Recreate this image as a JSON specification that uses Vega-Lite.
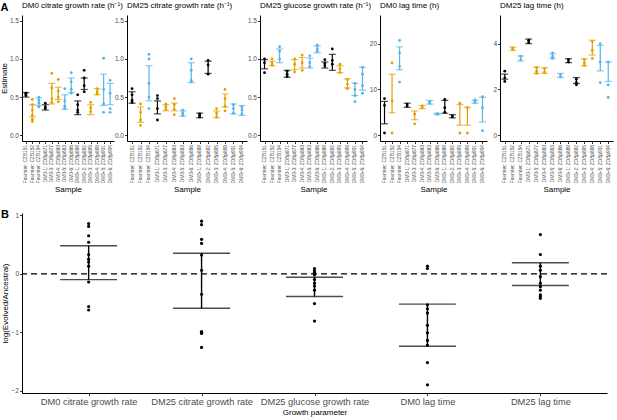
{
  "$schema": "https://vega.github.io/schema/vega-lite/v6.json",
  "padding": {"left": 0, "top": 2, "right": 2, "bottom": 2},
  "spacing": 15,
  "config": {
    "font": "Liberation Sans",
    "view": {"stroke": null},
    "axis": {
      "grid": false,
      "domainColor": "black",
      "domainWidth": 1,
      "tickColor": "black",
      "tickWidth": 0.8,
      "tickSize": 2.5,
      "labelColor": "#4d4d4d",
      "labelFontSize": 6.5,
      "labelPadding": 1,
      "titleColor": "black",
      "titleFontWeight": "normal",
      "titleFontSize": 8,
      "titlePadding": 2
    },
    "title": {"fontWeight": "normal", "fontSize": 8, "anchor": "start", "frame": "group", "color": "black", "offset": 5}
  },
  "datasets": {
    "samples": [
      {"s": "F151", "label": "Founder: CZB151", "g": "CZB151"},
      {"s": "F152", "label": "Founder: CZB152", "g": "CZB152"},
      {"s": "F154", "label": "Founder: CZB154", "g": "CZB154"},
      {"s": "M1", "label": "DM0-1: ZDBp871", "g": "CZB151"},
      {"s": "M3", "label": "DM0-3: ZDBp877", "g": "CZB152"},
      {"s": "M4", "label": "DM0-4: ZDBp880", "g": "CZB152"},
      {"s": "M5", "label": "DM0-5: ZDBp883", "g": "CZB154"},
      {"s": "M6", "label": "DM0-6: ZDBp886", "g": "CZB154"},
      {"s": "P1", "label": "DM0+1: ZDBp889", "g": "CZB151"},
      {"s": "P2", "label": "DM0+2: ZDBp892", "g": "CZB151"},
      {"s": "P3", "label": "DM0+3: ZDBp895", "g": "CZB152"},
      {"s": "P4", "label": "DM0+4: ZDBp898", "g": "CZB152"},
      {"s": "P5", "label": "DM0+5: ZDBp901", "g": "CZB154"},
      {"s": "P6", "label": "DM0+6: ZDBp904", "g": "CZB154"}
    ],
    "bars": [
      {"p": "c0", "s": "F151", "lo": 0.50, "hi": 0.56},
      {"p": "c0", "s": "F152", "lo": 0.24, "hi": 0.40},
      {"p": "c0", "s": "F154", "lo": 0.39, "hi": 0.49},
      {"p": "c0", "s": "M1", "lo": 0.33, "hi": 0.40},
      {"p": "c0", "s": "M3", "lo": 0.41, "hi": 0.68},
      {"p": "c0", "s": "M4", "lo": 0.47, "hi": 0.63},
      {"p": "c0", "s": "M5", "lo": 0.34, "hi": 0.53},
      {"p": "c0", "s": "M6", "lo": 0.56, "hi": 0.75},
      {"p": "c0", "s": "P1", "lo": 0.27, "hi": 0.45},
      {"p": "c0", "s": "P2", "lo": 0.60, "hi": 0.75},
      {"p": "c0", "s": "P3", "lo": 0.27, "hi": 0.40},
      {"p": "c0", "s": "P4", "lo": 0.53, "hi": 0.61},
      {"p": "c0", "s": "P5", "lo": 0.39, "hi": 0.80},
      {"p": "c0", "s": "P6", "lo": 0.40, "hi": 0.68},
      {"p": "c25", "s": "F151", "lo": 0.42, "hi": 0.57},
      {"p": "c25", "s": "F152", "lo": 0.17, "hi": 0.37},
      {"p": "c25", "s": "F154", "lo": 0.45, "hi": 0.91},
      {"p": "c25", "s": "M1", "lo": 0.28, "hi": 0.45},
      {"p": "c25", "s": "M3", "lo": 0.32, "hi": 0.40},
      {"p": "c25", "s": "M4", "lo": 0.32, "hi": 0.42},
      {"p": "c25", "s": "M5", "lo": 0.25, "hi": 0.32},
      {"p": "c25", "s": "M6", "lo": 0.69, "hi": 0.95},
      {"p": "c25", "s": "P1", "lo": 0.23, "hi": 0.29},
      {"p": "c25", "s": "P2", "lo": 0.81, "hi": 0.97},
      {"p": "c25", "s": "P3", "lo": 0.23, "hi": 0.32},
      {"p": "c25", "s": "P4", "lo": 0.37, "hi": 0.54},
      {"p": "c25", "s": "P5", "lo": 0.28, "hi": 0.41},
      {"p": "c25", "s": "P6", "lo": 0.26, "hi": 0.39},
      {"p": "g25", "s": "F151", "lo": 0.87, "hi": 0.99},
      {"p": "g25", "s": "F152", "lo": 0.91, "hi": 0.97},
      {"p": "g25", "s": "F154", "lo": 0.95, "hi": 1.13},
      {"p": "g25", "s": "M1", "lo": 0.76, "hi": 0.85},
      {"p": "g25", "s": "M3", "lo": 0.86, "hi": 0.99},
      {"p": "g25", "s": "M4", "lo": 0.88, "hi": 1.02},
      {"p": "g25", "s": "M5", "lo": 0.88, "hi": 1.01},
      {"p": "g25", "s": "M6", "lo": 1.08, "hi": 1.17},
      {"p": "g25", "s": "P1", "lo": 0.88, "hi": 0.96},
      {"p": "g25", "s": "P2", "lo": 0.85, "hi": 1.06},
      {"p": "g25", "s": "P3", "lo": 0.82, "hi": 0.91},
      {"p": "g25", "s": "P4", "lo": 0.62, "hi": 0.74},
      {"p": "g25", "s": "P5", "lo": 0.52, "hi": 0.68},
      {"p": "g25", "s": "P6", "lo": 0.59, "hi": 0.89},
      {"p": "l0", "s": "F151", "lo": 2.5, "hi": 7.4},
      {"p": "l0", "s": "F152", "lo": 4.9, "hi": 13.3},
      {"p": "l0", "s": "F154", "lo": 14.3, "hi": 19.3},
      {"p": "l0", "s": "M1", "lo": 6.1, "hi": 7.0},
      {"p": "l0", "s": "M3", "lo": 3.4, "hi": 5.3},
      {"p": "l0", "s": "M4", "lo": 5.8, "hi": 6.5},
      {"p": "l0", "s": "M5", "lo": 6.8, "hi": 7.6},
      {"p": "l0", "s": "M6", "lo": 4.5, "hi": 4.8},
      {"p": "l0", "s": "P1", "lo": 4.8, "hi": 7.6},
      {"p": "l0", "s": "P2", "lo": 3.8, "hi": 4.5},
      {"p": "l0", "s": "P3", "lo": 2.2, "hi": 6.7},
      {"p": "l0", "s": "P4", "lo": 2.2, "hi": 6.1},
      {"p": "l0", "s": "P5", "lo": 7.0, "hi": 7.6},
      {"p": "l0", "s": "P6", "lo": 2.9, "hi": 8.3},
      {"p": "l25", "s": "F151", "lo": 2.45, "hi": 2.67},
      {"p": "l25", "s": "F152", "lo": 3.70, "hi": 3.85},
      {"p": "l25", "s": "F154", "lo": 3.24, "hi": 3.46},
      {"p": "l25", "s": "M1", "lo": 4.00, "hi": 4.20},
      {"p": "l25", "s": "M3", "lo": 2.70, "hi": 2.98},
      {"p": "l25", "s": "M4", "lo": 2.70, "hi": 2.95},
      {"p": "l25", "s": "M5", "lo": 3.36, "hi": 3.56},
      {"p": "l25", "s": "M6", "lo": 2.52, "hi": 2.70},
      {"p": "l25", "s": "P1", "lo": 3.17, "hi": 3.34},
      {"p": "l25", "s": "P2", "lo": 2.26, "hi": 2.52},
      {"p": "l25", "s": "P3", "lo": 3.03, "hi": 3.34},
      {"p": "l25", "s": "P4", "lo": 3.50, "hi": 4.15},
      {"p": "l25", "s": "P5", "lo": 2.81, "hi": 3.92},
      {"p": "l25", "s": "P6", "lo": 2.35, "hi": 3.20}
    ],
    "reps": [
      {"p": "c0", "s": "F151", "v": 0.52}, {"p": "c0", "s": "F151", "v": 0.54}, {"p": "c0", "s": "F151", "v": 0.55},
      {"p": "c0", "s": "F152", "v": 0.47}, {"p": "c0", "s": "F152", "v": 0.40}, {"p": "c0", "s": "F152", "v": 0.33}, {"p": "c0", "s": "F152", "v": 0.26}, {"p": "c0", "s": "F152", "v": 0.21}, {"p": "c0", "s": "F152", "v": 0.18},
      {"p": "c0", "s": "F154", "v": 0.50}, {"p": "c0", "s": "F154", "v": 0.46}, {"p": "c0", "s": "F154", "v": 0.42}, {"p": "c0", "s": "F154", "v": 0.37},
      {"p": "c0", "s": "M1", "v": 0.42}, {"p": "c0", "s": "M1", "v": 0.37}, {"p": "c0", "s": "M1", "v": 0.35},
      {"p": "c0", "s": "M3", "v": 0.81}, {"p": "c0", "s": "M3", "v": 0.62}, {"p": "c0", "s": "M3", "v": 0.48}, {"p": "c0", "s": "M3", "v": 0.43},
      {"p": "c0", "s": "M4", "v": 0.73}, {"p": "c0", "s": "M4", "v": 0.58}, {"p": "c0", "s": "M4", "v": 0.50}, {"p": "c0", "s": "M4", "v": 0.44},
      {"p": "c0", "s": "M5", "v": 0.61}, {"p": "c0", "s": "M5", "v": 0.45}, {"p": "c0", "s": "M5", "v": 0.38}, {"p": "c0", "s": "M5", "v": 0.35},
      {"p": "c0", "s": "M6", "v": 0.82}, {"p": "c0", "s": "M6", "v": 0.70}, {"p": "c0", "s": "M6", "v": 0.60}, {"p": "c0", "s": "M6", "v": 0.55},
      {"p": "c0", "s": "P1", "v": 0.53}, {"p": "c0", "s": "P1", "v": 0.40}, {"p": "c0", "s": "P1", "v": 0.33}, {"p": "c0", "s": "P1", "v": 0.30},
      {"p": "c0", "s": "P2", "v": 0.85}, {"p": "c0", "s": "P2", "v": 0.75}, {"p": "c0", "s": "P2", "v": 0.65}, {"p": "c0", "s": "P2", "v": 0.57},
      {"p": "c0", "s": "P3", "v": 0.43}, {"p": "c0", "s": "P3", "v": 0.36}, {"p": "c0", "s": "P3", "v": 0.31},
      {"p": "c0", "s": "P4", "v": 0.61}, {"p": "c0", "s": "P4", "v": 0.57}, {"p": "c0", "s": "P4", "v": 0.54},
      {"p": "c0", "s": "P5", "v": 1.01}, {"p": "c0", "s": "P5", "v": 0.60}, {"p": "c0", "s": "P5", "v": 0.41}, {"p": "c0", "s": "P5", "v": 0.30},
      {"p": "c0", "s": "P6", "v": 0.72}, {"p": "c0", "s": "P6", "v": 0.55}, {"p": "c0", "s": "P6", "v": 0.35}, {"p": "c0", "s": "P6", "v": 0.30},
      {"p": "c25", "s": "F151", "v": 0.61}, {"p": "c25", "s": "F151", "v": 0.53}, {"p": "c25", "s": "F151", "v": 0.46}, {"p": "c25", "s": "F151", "v": 0.43},
      {"p": "c25", "s": "F152", "v": 0.41}, {"p": "c25", "s": "F152", "v": 0.30}, {"p": "c25", "s": "F152", "v": 0.20}, {"p": "c25", "s": "F152", "v": 0.13},
      {"p": "c25", "s": "F154", "v": 1.06}, {"p": "c25", "s": "F154", "v": 1.00}, {"p": "c25", "s": "F154", "v": 0.68}, {"p": "c25", "s": "F154", "v": 0.50}, {"p": "c25", "s": "F154", "v": 0.35},
      {"p": "c25", "s": "M1", "v": 0.52}, {"p": "c25", "s": "M1", "v": 0.48}, {"p": "c25", "s": "M1", "v": 0.35}, {"p": "c25", "s": "M1", "v": 0.20},
      {"p": "c25", "s": "M3", "v": 0.41}, {"p": "c25", "s": "M3", "v": 0.37}, {"p": "c25", "s": "M3", "v": 0.34},
      {"p": "c25", "s": "M4", "v": 0.48}, {"p": "c25", "s": "M4", "v": 0.40}, {"p": "c25", "s": "M4", "v": 0.34}, {"p": "c25", "s": "M4", "v": 0.27},
      {"p": "c25", "s": "M5", "v": 0.33}, {"p": "c25", "s": "M5", "v": 0.29}, {"p": "c25", "s": "M5", "v": 0.26},
      {"p": "c25", "s": "M6", "v": 1.00}, {"p": "c25", "s": "M6", "v": 0.85}, {"p": "c25", "s": "M6", "v": 0.72}, {"p": "c25", "s": "M6", "v": 0.70},
      {"p": "c25", "s": "P1", "v": 0.28}, {"p": "c25", "s": "P1", "v": 0.26}, {"p": "c25", "s": "P1", "v": 0.24},
      {"p": "c25", "s": "P2", "v": 0.98}, {"p": "c25", "s": "P2", "v": 0.92}, {"p": "c25", "s": "P2", "v": 0.80},
      {"p": "c25", "s": "P3", "v": 0.35}, {"p": "c25", "s": "P3", "v": 0.29}, {"p": "c25", "s": "P3", "v": 0.24},
      {"p": "c25", "s": "P4", "v": 0.60}, {"p": "c25", "s": "P4", "v": 0.48}, {"p": "c25", "s": "P4", "v": 0.38}, {"p": "c25", "s": "P4", "v": 0.32},
      {"p": "c25", "s": "P5", "v": 0.40}, {"p": "c25", "s": "P5", "v": 0.35}, {"p": "c25", "s": "P5", "v": 0.29},
      {"p": "c25", "s": "P6", "v": 0.37}, {"p": "c25", "s": "P6", "v": 0.33}, {"p": "c25", "s": "P6", "v": 0.28},
      {"p": "g25", "s": "F151", "v": 1.00}, {"p": "g25", "s": "F151", "v": 0.95}, {"p": "g25", "s": "F151", "v": 0.82},
      {"p": "g25", "s": "F152", "v": 1.00}, {"p": "g25", "s": "F152", "v": 0.95}, {"p": "g25", "s": "F152", "v": 0.92},
      {"p": "g25", "s": "F154", "v": 1.16}, {"p": "g25", "s": "F154", "v": 1.10}, {"p": "g25", "s": "F154", "v": 1.00},
      {"p": "g25", "s": "M1", "v": 0.84}, {"p": "g25", "s": "M1", "v": 0.80}, {"p": "g25", "s": "M1", "v": 0.77},
      {"p": "g25", "s": "M3", "v": 1.00}, {"p": "g25", "s": "M3", "v": 0.93}, {"p": "g25", "s": "M3", "v": 0.83},
      {"p": "g25", "s": "M4", "v": 1.05}, {"p": "g25", "s": "M4", "v": 0.95}, {"p": "g25", "s": "M4", "v": 0.85},
      {"p": "g25", "s": "M5", "v": 1.04}, {"p": "g25", "s": "M5", "v": 0.95}, {"p": "g25", "s": "M5", "v": 0.90},
      {"p": "g25", "s": "M6", "v": 1.18}, {"p": "g25", "s": "M6", "v": 1.13}, {"p": "g25", "s": "M6", "v": 1.10},
      {"p": "g25", "s": "P1", "v": 0.99}, {"p": "g25", "s": "P1", "v": 0.94}, {"p": "g25", "s": "P1", "v": 0.91},
      {"p": "g25", "s": "P2", "v": 1.13}, {"p": "g25", "s": "P2", "v": 0.98}, {"p": "g25", "s": "P2", "v": 0.93},
      {"p": "g25", "s": "P3", "v": 0.93}, {"p": "g25", "s": "P3", "v": 0.87}, {"p": "g25", "s": "P3", "v": 0.82},
      {"p": "g25", "s": "P4", "v": 0.73}, {"p": "g25", "s": "P4", "v": 0.67}, {"p": "g25", "s": "P4", "v": 0.61},
      {"p": "g25", "s": "P5", "v": 0.68}, {"p": "g25", "s": "P5", "v": 0.60}, {"p": "g25", "s": "P5", "v": 0.52}, {"p": "g25", "s": "P5", "v": 0.44},
      {"p": "g25", "s": "P6", "v": 0.89}, {"p": "g25", "s": "P6", "v": 0.80}, {"p": "g25", "s": "P6", "v": 0.65}, {"p": "g25", "s": "P6", "v": 0.55},
      {"p": "l0", "s": "F151", "v": 8.0}, {"p": "l0", "s": "F151", "v": 6.5}, {"p": "l0", "s": "F151", "v": 0.5},
      {"p": "l0", "s": "F152", "v": 15.8}, {"p": "l0", "s": "F152", "v": 7.5}, {"p": "l0", "s": "F152", "v": 0.5},
      {"p": "l0", "s": "F154", "v": 20.7}, {"p": "l0", "s": "F154", "v": 18.0}, {"p": "l0", "s": "F154", "v": 15.0}, {"p": "l0", "s": "F154", "v": 11.6},
      {"p": "l0", "s": "M1", "v": 6.8}, {"p": "l0", "s": "M1", "v": 6.4},
      {"p": "l0", "s": "M3", "v": 4.6}, {"p": "l0", "s": "M3", "v": 2.5},
      {"p": "l0", "s": "M4", "v": 6.4}, {"p": "l0", "s": "M4", "v": 6.0},
      {"p": "l0", "s": "M5", "v": 7.4}, {"p": "l0", "s": "M5", "v": 7.0},
      {"p": "l0", "s": "M6", "v": 4.7}, {"p": "l0", "s": "M6", "v": 4.6},
      {"p": "l0", "s": "P1", "v": 7.8}, {"p": "l0", "s": "P1", "v": 6.0}, {"p": "l0", "s": "P1", "v": 5.0},
      {"p": "l0", "s": "P2", "v": 4.2}, {"p": "l0", "s": "P2", "v": 4.0},
      {"p": "l0", "s": "P3", "v": 7.0}, {"p": "l0", "s": "P3", "v": 0.5},
      {"p": "l0", "s": "P4", "v": 6.0}, {"p": "l0", "s": "P4", "v": 0.5},
      {"p": "l0", "s": "P5", "v": 7.7}, {"p": "l0", "s": "P5", "v": 7.2},
      {"p": "l0", "s": "P6", "v": 8.4}, {"p": "l0", "s": "P6", "v": 6.0}, {"p": "l0", "s": "P6", "v": 1.0},
      {"p": "l25", "s": "F151", "v": 2.8}, {"p": "l25", "s": "F151", "v": 2.5}, {"p": "l25", "s": "F151", "v": 2.35},
      {"p": "l25", "s": "F152", "v": 3.8}, {"p": "l25", "s": "F152", "v": 3.75},
      {"p": "l25", "s": "F154", "v": 3.45}, {"p": "l25", "s": "F154", "v": 3.3},
      {"p": "l25", "s": "M1", "v": 4.15}, {"p": "l25", "s": "M1", "v": 4.05},
      {"p": "l25", "s": "M3", "v": 2.95}, {"p": "l25", "s": "M3", "v": 2.8}, {"p": "l25", "s": "M3", "v": 2.7},
      {"p": "l25", "s": "M4", "v": 2.9}, {"p": "l25", "s": "M4", "v": 2.75},
      {"p": "l25", "s": "M5", "v": 3.6}, {"p": "l25", "s": "M5", "v": 3.45}, {"p": "l25", "s": "M5", "v": 3.35},
      {"p": "l25", "s": "M6", "v": 2.65}, {"p": "l25", "s": "M6", "v": 2.55},
      {"p": "l25", "s": "P1", "v": 3.3}, {"p": "l25", "s": "P1", "v": 3.2},
      {"p": "l25", "s": "P2", "v": 2.45}, {"p": "l25", "s": "P2", "v": 2.3}, {"p": "l25", "s": "P2", "v": 2.2},
      {"p": "l25", "s": "P3", "v": 3.3}, {"p": "l25", "s": "P3", "v": 3.15}, {"p": "l25", "s": "P3", "v": 3.05},
      {"p": "l25", "s": "P4", "v": 4.1}, {"p": "l25", "s": "P4", "v": 3.7}, {"p": "l25", "s": "P4", "v": 3.35},
      {"p": "l25", "s": "P5", "v": 4.0}, {"p": "l25", "s": "P5", "v": 3.2}, {"p": "l25", "s": "P5", "v": 2.3},
      {"p": "l25", "s": "P6", "v": 3.2}, {"p": "l25", "s": "P6", "v": 2.2}, {"p": "l25", "s": "P6", "v": 1.65}
    ],
    "ratioBars": [
      {"param": "DM0 citrate growth rate", "lo": -0.10, "hi": 0.48},
      {"param": "DM25 citrate growth rate", "lo": -0.59, "hi": 0.35},
      {"param": "DM25 glucose growth rate", "lo": -0.39, "hi": -0.06},
      {"param": "DM0 lag time", "lo": -1.24, "hi": -0.52},
      {"param": "DM25 lag time", "lo": -0.20, "hi": 0.19}
    ],
    "ratios": [
      {"param": "DM0 citrate growth rate", "v": 0.86}, {"param": "DM0 citrate growth rate", "v": 0.81}, {"param": "DM0 citrate growth rate", "v": 0.65}, {"param": "DM0 citrate growth rate", "v": 0.54}, {"param": "DM0 citrate growth rate", "v": 0.33}, {"param": "DM0 citrate growth rate", "v": 0.25}, {"param": "DM0 citrate growth rate", "v": 0.20}, {"param": "DM0 citrate growth rate", "v": 0.13}, {"param": "DM0 citrate growth rate", "v": -0.14}, {"param": "DM0 citrate growth rate", "v": -0.56}, {"param": "DM0 citrate growth rate", "v": -0.62},
      {"param": "DM25 citrate growth rate", "v": 0.90}, {"param": "DM25 citrate growth rate", "v": 0.84}, {"param": "DM25 citrate growth rate", "v": 0.59}, {"param": "DM25 citrate growth rate", "v": 0.52}, {"param": "DM25 citrate growth rate", "v": 0.32}, {"param": "DM25 citrate growth rate", "v": 0.06}, {"param": "DM25 citrate growth rate", "v": -0.35}, {"param": "DM25 citrate growth rate", "v": -0.99}, {"param": "DM25 citrate growth rate", "v": -1.00}, {"param": "DM25 citrate growth rate", "v": -1.02}, {"param": "DM25 citrate growth rate", "v": -1.26},
      {"param": "DM25 glucose growth rate", "v": 0.09}, {"param": "DM25 glucose growth rate", "v": 0.05}, {"param": "DM25 glucose growth rate", "v": 0.02}, {"param": "DM25 glucose growth rate", "v": 0.0}, {"param": "DM25 glucose growth rate", "v": -0.02}, {"param": "DM25 glucose growth rate", "v": -0.10}, {"param": "DM25 glucose growth rate", "v": -0.16}, {"param": "DM25 glucose growth rate", "v": -0.21}, {"param": "DM25 glucose growth rate", "v": -0.28}, {"param": "DM25 glucose growth rate", "v": -0.51}, {"param": "DM25 glucose growth rate", "v": -0.81},
      {"param": "DM0 lag time", "v": 0.13}, {"param": "DM0 lag time", "v": 0.09}, {"param": "DM0 lag time", "v": -0.53}, {"param": "DM0 lag time", "v": -0.60}, {"param": "DM0 lag time", "v": -0.67}, {"param": "DM0 lag time", "v": -0.88}, {"param": "DM0 lag time", "v": -1.01}, {"param": "DM0 lag time", "v": -1.14}, {"param": "DM0 lag time", "v": -1.22}, {"param": "DM0 lag time", "v": -1.52}, {"param": "DM0 lag time", "v": -1.90},
      {"param": "DM25 lag time", "v": 0.67}, {"param": "DM25 lag time", "v": 0.33}, {"param": "DM25 lag time", "v": 0.13}, {"param": "DM25 lag time", "v": 0.06}, {"param": "DM25 lag time", "v": -0.05}, {"param": "DM25 lag time", "v": -0.16}, {"param": "DM25 lag time", "v": -0.22}, {"param": "DM25 lag time", "v": -0.28}, {"param": "DM25 lag time", "v": -0.36}, {"param": "DM25 lag time", "v": -0.39}, {"param": "DM25 lag time", "v": -0.42}
    ]
  },
  "vconcat": [
    {
      "title": {"text": "A", "fontSize": 11, "fontWeight": "bold", "anchor": "start", "frame": "bounds", "offset": -11},
      "bounds": "flush",
      "spacing": 13,
      "hconcat": [
        {
          "width": 92, "height": 126,
          "title": "DM0 citrate growth rate (h⁻¹)",
          "encoding": {
            "x": {"field": "label", "type": "nominal", "sort": ["Founder: CZB151", "Founder: CZB152", "Founder: CZB154", "DM0-1: ZDBp871", "DM0-3: ZDBp877", "DM0-4: ZDBp880", "DM0-5: ZDBp883", "DM0-6: ZDBp886", "DM0+1: ZDBp889", "DM0+2: ZDBp892", "DM0+3: ZDBp895", "DM0+4: ZDBp898", "DM0+5: ZDBp901", "DM0+6: ZDBp904"], "scale": {"type": "point", "padding": 0.6}, "axis": {"title": "Sample", "labelFontSize": 4.8, "labelAngle": 270}},
            "color": {"field": "g", "type": "nominal", "scale": {"domain": ["CZB151", "CZB152", "CZB154"], "range": ["#000000", "#E69F00", "#56B4E9"]}, "legend": null}
          },
          "layer": [
            {
              "data": {"name": "bars"},
              "transform": [{"filter": "datum.p == 'c0'"}, {"lookup": "s", "from": {"data": {"name": "samples"}, "key": "s", "fields": ["label", "g"]}}],
              "mark": {"type": "errorbar", "ticks": {"size": 7}, "thickness": 1.2},
              "encoding": {"y": {"field": "lo", "type": "quantitative", "title": "Estimate", "scale": {"domain": [-0.075, 1.575], "nice": false, "zero": false}, "axis": {"values": [0, 0.5, 1, 1.5], "format": ".1f", "titlePadding": 1}}, "y2": {"field": "hi"}}
            },
            {
              "data": {"name": "reps"},
              "transform": [{"filter": "datum.p == 'c0'"}, {"lookup": "s", "from": {"data": {"name": "samples"}, "key": "s", "fields": ["label", "g"]}}],
              "mark": {"type": "circle", "size": 8, "opacity": 1},
              "encoding": {"y": {"field": "v", "type": "quantitative", "title": "Estimate"}}
            }
          ]
        },
        {
          "width": 120, "height": 126,
          "title": "DM25 citrate growth rate (h⁻¹)",
          "encoding": {
            "x": {"field": "label", "type": "nominal", "sort": ["Founder: CZB151", "Founder: CZB152", "Founder: CZB154", "DM0-1: ZDBp871", "DM0-3: ZDBp877", "DM0-4: ZDBp880", "DM0-5: ZDBp883", "DM0-6: ZDBp886", "DM0+1: ZDBp889", "DM0+2: ZDBp892", "DM0+3: ZDBp895", "DM0+4: ZDBp898", "DM0+5: ZDBp901", "DM0+6: ZDBp904"], "scale": {"type": "point", "padding": 0.6}, "axis": {"title": "Sample", "labelFontSize": 4.8, "labelAngle": 270}},
            "color": {"field": "g", "type": "nominal", "scale": {"domain": ["CZB151", "CZB152", "CZB154"], "range": ["#000000", "#E69F00", "#56B4E9"]}, "legend": null}
          },
          "layer": [
            {
              "data": {"name": "bars"},
              "transform": [{"filter": "datum.p == 'c25'"}, {"lookup": "s", "from": {"data": {"name": "samples"}, "key": "s", "fields": ["label", "g"]}}],
              "mark": {"type": "errorbar", "ticks": {"size": 7}, "thickness": 1.2},
              "encoding": {"y": {"field": "lo", "type": "quantitative", "title": null, "scale": {"domain": [-0.075, 1.575], "nice": false, "zero": false}, "axis": {"values": [0, 0.5, 1, 1.5], "format": ".1f"}}, "y2": {"field": "hi"}}
            },
            {
              "data": {"name": "reps"},
              "transform": [{"filter": "datum.p == 'c25'"}, {"lookup": "s", "from": {"data": {"name": "samples"}, "key": "s", "fields": ["label", "g"]}}],
              "mark": {"type": "circle", "size": 8, "opacity": 1},
              "encoding": {"y": {"field": "v", "type": "quantitative", "title": null}}
            }
          ]
        },
        {
          "width": 107, "height": 126,
          "title": "DM25 glucose growth rate (h⁻¹)",
          "encoding": {
            "x": {"field": "label", "type": "nominal", "sort": ["Founder: CZB151", "Founder: CZB152", "Founder: CZB154", "DM0-1: ZDBp871", "DM0-3: ZDBp877", "DM0-4: ZDBp880", "DM0-5: ZDBp883", "DM0-6: ZDBp886", "DM0+1: ZDBp889", "DM0+2: ZDBp892", "DM0+3: ZDBp895", "DM0+4: ZDBp898", "DM0+5: ZDBp901", "DM0+6: ZDBp904"], "scale": {"type": "point", "padding": 0.6}, "axis": {"title": "Sample", "labelFontSize": 4.8, "labelAngle": 270}},
            "color": {"field": "g", "type": "nominal", "scale": {"domain": ["CZB151", "CZB152", "CZB154"], "range": ["#000000", "#E69F00", "#56B4E9"]}, "legend": null}
          },
          "layer": [
            {
              "data": {"name": "bars"},
              "transform": [{"filter": "datum.p == 'g25'"}, {"lookup": "s", "from": {"data": {"name": "samples"}, "key": "s", "fields": ["label", "g"]}}],
              "mark": {"type": "errorbar", "ticks": {"size": 7}, "thickness": 1.2},
              "encoding": {"y": {"field": "lo", "type": "quantitative", "title": null, "scale": {"domain": [-0.075, 1.575], "nice": false, "zero": false}, "axis": {"values": [0, 0.5, 1, 1.5], "format": ".1f"}}, "y2": {"field": "hi"}}
            },
            {
              "data": {"name": "reps"},
              "transform": [{"filter": "datum.p == 'g25'"}, {"lookup": "s", "from": {"data": {"name": "samples"}, "key": "s", "fields": ["label", "g"]}}],
              "mark": {"type": "circle", "size": 8, "opacity": 1},
              "encoding": {"y": {"field": "v", "type": "quantitative", "title": null}}
            }
          ]
        },
        {
          "width": 107, "height": 126,
          "title": "DM0 lag time (h)",
          "encoding": {
            "x": {"field": "label", "type": "nominal", "sort": ["Founder: CZB151", "Founder: CZB152", "Founder: CZB154", "DM0-1: ZDBp871", "DM0-3: ZDBp877", "DM0-4: ZDBp880", "DM0-5: ZDBp883", "DM0-6: ZDBp886", "DM0+1: ZDBp889", "DM0+2: ZDBp892", "DM0+3: ZDBp895", "DM0+4: ZDBp898", "DM0+5: ZDBp901", "DM0+6: ZDBp904"], "scale": {"type": "point", "padding": 0.6}, "axis": {"title": "Sample", "labelFontSize": 4.8, "labelAngle": 270}},
            "color": {"field": "g", "type": "nominal", "scale": {"domain": ["CZB151", "CZB152", "CZB154"], "range": ["#000000", "#E69F00", "#56B4E9"]}, "legend": null}
          },
          "layer": [
            {
              "data": {"name": "bars"},
              "transform": [{"filter": "datum.p == 'l0'"}, {"lookup": "s", "from": {"data": {"name": "samples"}, "key": "s", "fields": ["label", "g"]}}],
              "mark": {"type": "errorbar", "ticks": {"size": 7}, "thickness": 1.2},
              "encoding": {"y": {"field": "lo", "type": "quantitative", "title": null, "scale": {"domain": [-1.25, 26.25], "nice": false, "zero": false}, "axis": {"values": [0, 5, 10, 15, 20, 25]}}, "y2": {"field": "hi"}}
            },
            {
              "data": {"name": "reps"},
              "transform": [{"filter": "datum.p == 'l0'"}, {"lookup": "s", "from": {"data": {"name": "samples"}, "key": "s", "fields": ["label", "g"]}}],
              "mark": {"type": "circle", "size": 8, "opacity": 1},
              "encoding": {"y": {"field": "v", "type": "quantitative", "title": null}}
            }
          ]
        },
        {
          "width": 113, "height": 126,
          "title": "DM25 lag time (h)",
          "encoding": {
            "x": {"field": "label", "type": "nominal", "sort": ["Founder: CZB151", "Founder: CZB152", "Founder: CZB154", "DM0-1: ZDBp871", "DM0-3: ZDBp877", "DM0-4: ZDBp880", "DM0-5: ZDBp883", "DM0-6: ZDBp886", "DM0+1: ZDBp889", "DM0+2: ZDBp892", "DM0+3: ZDBp895", "DM0+4: ZDBp898", "DM0+5: ZDBp901", "DM0+6: ZDBp904"], "scale": {"type": "point", "padding": 0.6}, "axis": {"title": "Sample", "labelFontSize": 4.8, "labelAngle": 270}},
            "color": {"field": "g", "type": "nominal", "scale": {"domain": ["CZB151", "CZB152", "CZB154"], "range": ["#000000", "#E69F00", "#56B4E9"]}, "legend": null}
          },
          "layer": [
            {
              "data": {"name": "bars"},
              "transform": [{"filter": "datum.p == 'l25'"}, {"lookup": "s", "from": {"data": {"name": "samples"}, "key": "s", "fields": ["label", "g"]}}],
              "mark": {"type": "errorbar", "ticks": {"size": 7}, "thickness": 1.2},
              "encoding": {"y": {"field": "lo", "type": "quantitative", "title": null, "scale": {"domain": [-0.25, 5.25], "nice": false, "zero": false}, "axis": {"values": [0, 1, 2, 3, 4, 5]}}, "y2": {"field": "hi"}}
            },
            {
              "data": {"name": "reps"},
              "transform": [{"filter": "datum.p == 'l25'"}, {"lookup": "s", "from": {"data": {"name": "samples"}, "key": "s", "fields": ["label", "g"]}}],
              "mark": {"type": "circle", "size": 8, "opacity": 1},
              "encoding": {"y": {"field": "v", "type": "quantitative", "title": null}}
            }
          ]
        }
      ]
    },
    {
      "width": 585, "height": 180,
      "title": {"text": "B", "fontSize": 11, "fontWeight": "bold", "anchor": "start", "frame": "bounds", "offset": -8},
      "layer": [
        {
          "data": {"values": [{}]},
          "mark": {"type": "rule", "strokeDash": [6, 4], "strokeWidth": 1.3, "color": "black"},
          "encoding": {"y": {"datum": 0}}
        },
        {
          "data": {"name": "ratioBars"},
          "mark": {"type": "errorbar", "ticks": {"size": 57}, "thickness": 1.4, "color": "black"},
          "encoding": {
            "x": {"field": "param", "type": "nominal", "sort": ["DM0 citrate growth rate", "DM25 citrate growth rate", "DM25 glucose growth rate", "DM0 lag time", "DM25 lag time"], "scale": {"type": "point", "padding": 0.59}, "axis": {"title": "Growth parameter", "labelFontSize": 9.3, "labelAngle": 0, "labelPadding": 2}},
            "y": {"field": "lo", "type": "quantitative", "title": "log(Evolved/Ancestral)", "scale": {"domain": [-2.04, 1.04], "nice": false, "zero": false}, "axis": {"values": [-2, -1, 0, 1], "format": "d"}},
            "y2": {"field": "hi"}
          }
        },
        {
          "data": {"name": "ratios"},
          "mark": {"type": "circle", "size": 10, "opacity": 1, "color": "black"},
          "encoding": {
            "x": {"field": "param", "type": "nominal", "sort": ["DM0 citrate growth rate", "DM25 citrate growth rate", "DM25 glucose growth rate", "DM0 lag time", "DM25 lag time"]},
            "y": {"field": "v", "type": "quantitative", "title": "log(Evolved/Ancestral)"}
          }
        }
      ]
    }
  ]
}
